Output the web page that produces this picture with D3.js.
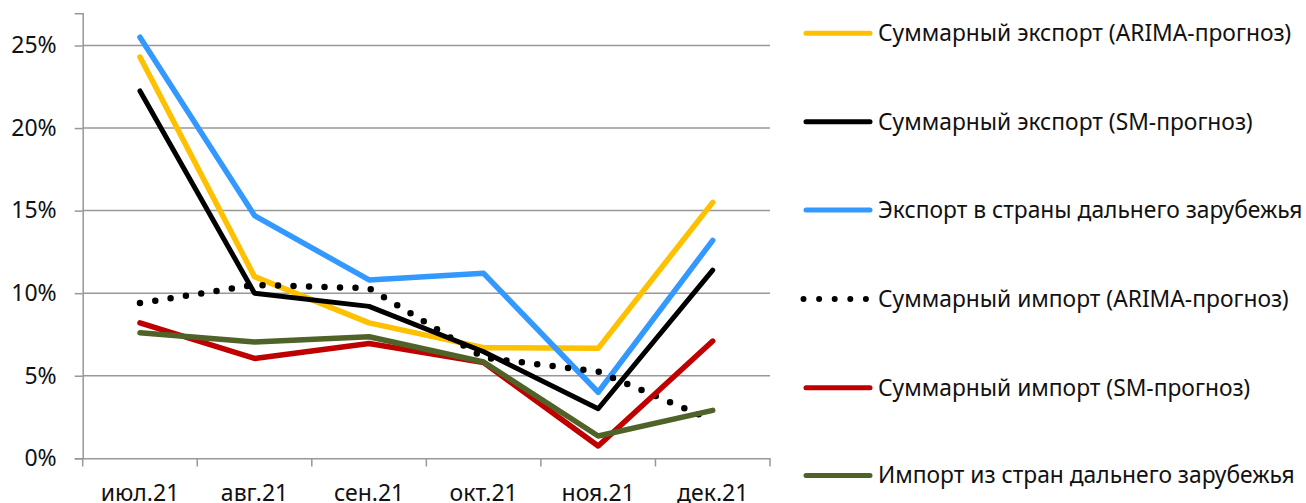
<!DOCTYPE html>
<html><head><meta charset="utf-8">
<script src="https://cdn.jsdelivr.net/npm/d3@7"></script>
<style>body{margin:0;background:#fff}svg{display:block}text{font-family:"Noto Sans",sans-serif;fill:#111}</style>
</head><body><svg id="c" width="1306" height="503"></svg>
<script>
const categories = ["июл.21","авг.21","сен.21","окт.21","ноя.21","дек.21"];
const seriesNames = [
  "Суммарный экспорт (ARIMA-прогноз)",
  "Суммарный экспорт (SM-прогноз)",
  "Экспорт в страны дальнего зарубежья",
  "Суммарный импорт (ARIMA-прогноз)",
  "Суммарный импорт (SM-прогноз)",
  "Импорт из стран дальнего зарубежья"
];
const exportArima = [24.3, 11.0, 8.2, 6.7, 6.66, 15.5];
const exportSM    = [22.25, 10.0, 9.2, 6.45, 3.0, 11.4];
const exportFar   = [25.5, 14.7, 10.8, 11.2, 4.0, 13.2];
const importArima = [9.4, 10.5, 10.3, 6.1, 5.25, 2.3];
const importSM    = [8.2, 6.05, 6.95, 5.8, 0.75, 7.1];
const importFar   = [7.6, 7.05, 7.36, 5.83, 1.35, 2.9];
const yTicks = [0, 5, 10, 15, 20, 25];

const colors = ["#FFC000","#000000","#3399FF","#000000","#C00000","#4F6228"];
const values = [exportArima, exportSM, exportFar, importArima, importSM, importFar];

const svg = d3.select("#c");
const x = d3.scaleBand().domain(categories).range([82.7, 770]);
const y = d3.scaleLinear().domain([0, 26.95]).range([458.3, 13.3]);

// gridlines
svg.append("g").selectAll("line").data(yTicks.filter(d=>d>0)).join("line")
  .attr("x1", 82.7).attr("x2", 770).attr("y1", d=>y(d)).attr("y2", d=>y(d))
  .attr("stroke", "#989898").attr("stroke-width", 1.5);

// y axis
const ya = svg.append("g").attr("transform","translate(82.7,0)")
  .call(d3.axisLeft(y).tickValues(yTicks).tickFormat(d=>d+"%").tickSize(8).tickPadding(18));
ya.select(".domain").attr("stroke","#989898").attr("stroke-width",1.5);
ya.selectAll(".tick line").attr("stroke","#989898").attr("stroke-width",1.5);
ya.selectAll(".tick text").attr("font-size",23).attr("font-family","Noto Sans").attr("fill","#111");

// x axis
const xa = svg.append("g").attr("transform","translate(0,458.3)")
  .call(d3.axisBottom(x).tickSize(0).tickPadding(0));
xa.select(".domain").attr("stroke","#989898").attr("stroke-width",1.5);
xa.selectAll(".tick text").attr("font-size",23).attr("font-family","Noto Sans").attr("fill","#111")
  .attr("dy",null).attr("y",43);
// category boundary ticks
const bounds = categories.map(c=>x(c)).concat([x.range()[1]]);
svg.append("g").selectAll("line").data(bounds).join("line")
  .attr("x1",d=>d).attr("x2",d=>d).attr("y1",458.3).attr("y2",466.5)
  .attr("stroke","#989898").attr("stroke-width",1.5);

const cx = c => x(c) + x.bandwidth()/2;
const line = d3.line().x((d,i)=>cx(categories[i])).y(d=>y(d));

values.forEach((vals, k) => {
  const p = svg.append("path").datum(vals).attr("d", line)
    .attr("fill","none").attr("stroke", colors[k])
    .attr("stroke-linecap","round").attr("stroke-linejoin","round");
  if (k === 3) {
    p.attr("stroke-width", 6.5).attr("stroke-dasharray","0 15.5");
  } else {
    p.attr("stroke-width", k===1 ? 5 : 5.5);
  }
});

// legend
const lg = svg.append("g");
const rowsY = [33.3, 121.7, 210, 299, 387.7, 475.5];
seriesNames.forEach((name, k) => {
  const g = lg.append("g").attr("transform", `translate(0,${rowsY[k]})`);
  const l = g.append("line").attr("x1", 806).attr("x2", 870).attr("y1",0).attr("y2",0)
    .attr("stroke", colors[k]).attr("stroke-linecap","round");
  if (k===3) l.attr("stroke-width",6).attr("stroke-dasharray","0 15.6").attr("x1",803.5).attr("x2",870);
  else l.attr("stroke-width",5);
  g.append("text").attr("x",878).attr("y",0).attr("dy","0.35em")
    .attr("font-size",22.8).text(name);
});
</script></body></html>
